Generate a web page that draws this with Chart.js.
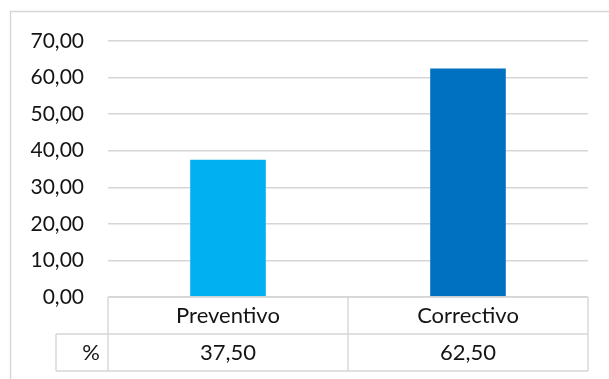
<!DOCTYPE html>
<html>
<head>
<meta charset="utf-8">
<script src="https://cdn.jsdelivr.net/npm/chart.js@4"></script>
<style>
  html, body { margin: 0; padding: 0; background: #fff; }
  #wrap { width: 609px; height: 379px; position: relative; }
</style>
</head>
<body>
<div id="wrap"><canvas id="myChart" width="609" height="379"></canvas></div>
<script>
// chart data
const categories = ['Preventivo', 'Correctivo'];
const seriesName = '%';
const percentValues = [37.5, 62.5];
const yMin = 0;
const yMax = 70;
const yStep = 10;

const textColor = '#141414';
const lineColor = '#d6d6d6';
const fontFamily = 'Lato, "Open Sans", sans-serif';

// numbers use a comma as decimal separator
function fmt(v) {
    return Number(v).toFixed(2).replace('.', ',');
}

// outer frame + data table under the plot
const dataTable = {
    id: 'dataTable',
    afterDraw(chart) {
        const c = chart.ctx;
        const area = chart.chartArea;
        const x = chart.scales.x;
        const rowH = 37;
        const top = area.bottom;
        const mid = top + rowH;
        const bottom = mid + rowH;
        const labelLeft = 56;

        // cell boundaries between the categories
        const edges = [area.left];
        for (let i = 0; i < categories.length - 1; i++) {
            edges.push((x.getPixelForValue(i) + x.getPixelForValue(i + 1)) / 2);
        }
        edges.push(area.right);

        c.save();
        c.strokeStyle = lineColor;
        c.lineWidth = 1.4;

        c.beginPath();
        // chart frame (left and top)
        c.moveTo(10.5, chart.height);
        c.lineTo(10.5, 11.5);
        c.lineTo(chart.width, 11.5);

        // horizontal rules
        c.moveTo(area.left, top);
        c.lineTo(area.right, top);
        c.moveTo(labelLeft, mid);
        c.lineTo(area.right, mid);
        c.moveTo(labelLeft, bottom);
        c.lineTo(area.right, bottom);

        // vertical rules
        for (const e of edges) {
            c.moveTo(e, top);
            c.lineTo(e, bottom);
        }
        c.moveTo(labelLeft, mid);
        c.lineTo(labelLeft, bottom);
        c.stroke();

        // header row and values row
        c.fillStyle = textColor;
        c.font = '22px ' + fontFamily;
        c.textBaseline = 'middle';
        c.textAlign = 'center';
        categories.forEach((cat, i) => {
            const cx = x.getPixelForValue(i);
            c.fillText(cat, cx, (top + mid) / 2);
            c.fillText(fmt(percentValues[i]), cx, (mid + bottom) / 2);
        });
        c.textAlign = 'right';
        c.fillText(seriesName, area.left - 8, (mid + bottom) / 2);
        c.restore();
    }
};

const ctx = document.getElementById('myChart').getContext('2d');

const myChart = new Chart(ctx, {
    type: 'bar',
    data: {
        labels: categories,
        datasets: [{
            label: seriesName,
            data: percentValues,
            backgroundColor: ['#00B0F0', '#0070C0'],
            borderWidth: 0,
            barPercentage: 0.315,
            categoryPercentage: 1
        }]
    },
    options: {
        responsive: false,
        animation: false,
        layout: {
            padding: { left: 0, right: 21, top: 41, bottom: 82 }
        },
        plugins: {
            legend: { display: false },
            tooltip: { enabled: false }
        },
        scales: {
            x: {
                display: false
            },
            y: {
                min: yMin,
                max: yMax,
                border: { display: false },
                grid: {
                    color: lineColor,
                    lineWidth: 1.4,
                    drawTicks: false
                },
                ticks: {
                    stepSize: yStep,
                    padding: 24,
                    color: textColor,
                    font: { family: fontFamily, size: 21 },
                    callback: (v) => fmt(v)
                },
                afterFit(scale) {
                    scale.width = 108;
                }
            }
        }
    },
    plugins: [dataTable]
});
</script>
</body>
</html>
